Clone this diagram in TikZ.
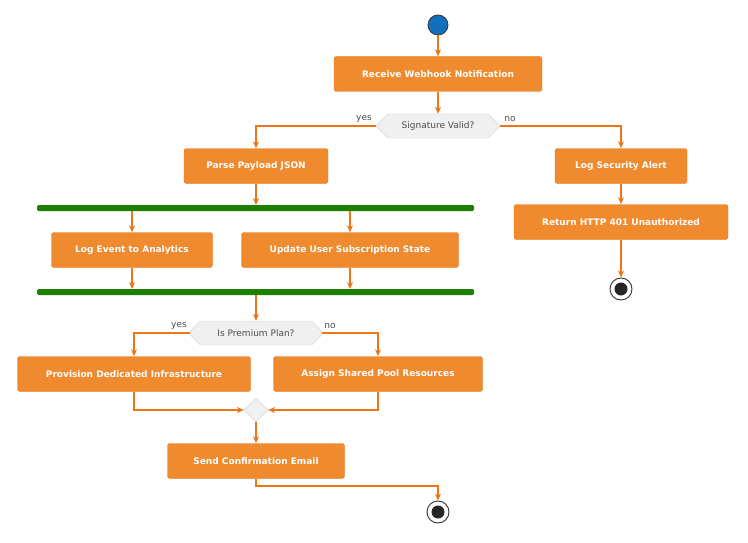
\documentclass[tikz,border=0pt]{standalone}
\usepackage{fontspec}
\setmainfont{DejaVu Sans}
\usetikzlibrary{arrows.meta,shapes.geometric,shapes.misc}
\definecolor{ob}{HTML}{F08A2E}
\definecolor{obd}{HTML}{E0731A}
\definecolor{ar}{HTML}{EE7418}
\definecolor{gb}{HTML}{1F7F00}
\begin{document}
\begin{tikzpicture}[x=1pt,y=-1pt,
 box/.style={draw=obd,fill=ob,rounded corners=2.5pt,minimum height=35pt,text=white,font=\fontsize{9}{10}\selectfont\bfseries,inner xsep=8pt},
 dec/.style={draw=black!20,fill=black!6,chamfered rectangle,chamfered rectangle xsep=10pt,minimum height=24pt,font=\fontsize{9}{10}\selectfont,text=black!70,inner xsep=1pt},
 lab/.style={font=\fontsize{9}{10}\selectfont,text=black!70},
 ln/.style={draw=ar,line width=1.4pt},
 arr/.style={ln,-{Stealth[length=7pt,width=6pt]}},
 bar/.style={fill=gb,rounded corners=1.5pt}]
\useasboundingbox (0,0) rectangle (748,543);
\node[circle,fill={rgb,255:red,17;green,112;blue,190},draw=black!80,line width=0.8pt,minimum size=20pt,inner sep=0] (s) at (438,25) {};
\node[box,minimum width=208pt] (rw) at (438,74) {Receive Webhook Notification};
\node[dec,minimum width=123pt] (sv) at (438,126) {Signature Valid?};
\node[lab] at (364,119) {yes};
\node[lab] at (510,119) {no};
\node[box,minimum width=144pt] (pp) at (256,166) {Parse Payload JSON};
\node[box,minimum width=132pt] (ls) at (621,166) {Log Security Alert};
\node[box,minimum width=214pt] (rh) at (621,222) {Return HTTP 401 Unauthorized};
\node[circle,draw=black!80,line width=0.9pt,fill=white,minimum size=22pt,inner sep=0] (e1) at (621,289) {};
\fill[black!85] (621,289) circle (6.5pt);
\fill[bar] (37,205) rectangle (474,211); \coordinate (f1) at (256,208);
\node[box,minimum width=161pt] (le) at (132,250) {Log Event to Analytics};
\node[box,minimum width=217pt] (uu) at (350,250) {Update User Subscription State};
\fill[bar] (37,289) rectangle (474,295); \coordinate (j1) at (256,292);
\node[dec,minimum width=132pt] (ip) at (256,333) {Is Premium Plan?};
\node[lab] at (179,326) {yes};
\node[lab] at (330,326) {no};
\node[box,minimum width=233pt] (pd) at (134,374) {Provision Dedicated Infrastructure};
\node[box,minimum width=209pt] (as) at (378,374) {Assign Shared Pool Resources};
\node[diamond,draw=black!20,fill=black!6,minimum size=24pt,inner sep=0] (m) at (256,410) {};
\node[box,minimum width=177pt] (sc) at (256,461) {Send Confirmation Email};
\node[circle,draw=black!80,line width=0.9pt,fill=white,minimum size=22pt,inner sep=0] (e2) at (438,512) {};
\fill[black!85] (438,512) circle (6.5pt);
\draw[arr] (s) -- (rw);
\draw[arr] (rw) -- (sv);
\draw[arr] (sv.west) -| (pp.north);
\draw[arr] (sv.east) -| (ls.north);
\draw[arr] (ls) -- (rh);
\draw[arr] (rh) -- (e1);
\draw[arr] (pp) -- (256,205);
\draw[arr] (132,211) -- (le);
\draw[arr] (350,211) -- (uu);
\draw[arr] (le) -- (132,289);
\draw[arr] (uu) -- (350,289);
\draw[arr] (256,295) -- (ip);
\draw[arr] (ip.west) -| (pd.north);
\draw[arr] (ip.east) -| (as.north);
\draw[arr] (pd.south) |- (m.west);
\draw[arr] (as.south) |- (m.east);
\draw[arr] (m) -- (sc);
\draw[arr] (sc.south) |- (438,486) -- (e2);
\end{tikzpicture}
\end{document}
